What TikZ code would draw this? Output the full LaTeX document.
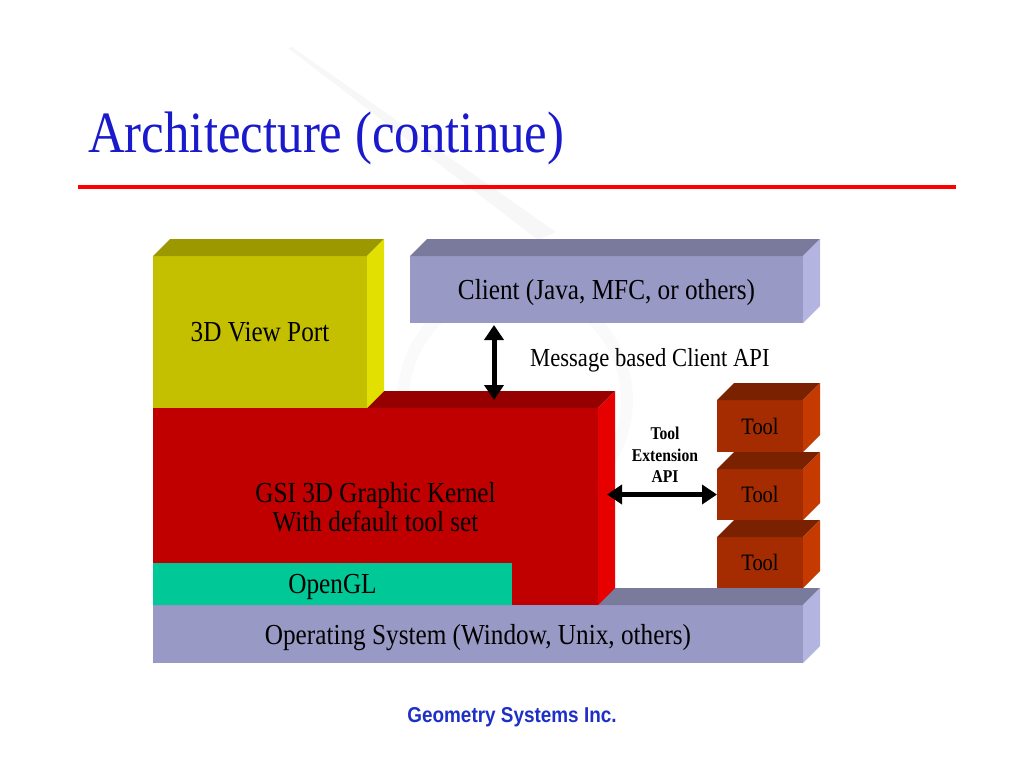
\documentclass[tikz,border=0pt]{standalone}
\usepackage{fontspec}
\setmainfont{Liberation Serif}[FakeStretch=0.87]
\newfontfamily\footfont{Liberation Sans}[FakeStretch=0.88]
\usetikzlibrary{arrows.meta,calc}
\definecolor{vpFront}{RGB}{196,192,0}
\definecolor{vpTop}{RGB}{156,153,0}
\definecolor{vpSide}{RGB}{226,224,0}
\definecolor{clFront}{RGB}{153,153,198}
\definecolor{clTop}{RGB}{122,122,156}
\definecolor{clSide}{RGB}{180,180,224}
\definecolor{krFront}{RGB}{192,0,0}
\definecolor{krTop}{RGB}{150,0,0}
\definecolor{krSide}{RGB}{230,0,0}
\definecolor{glFront}{RGB}{0,200,150}
\definecolor{tlFront}{RGB}{165,44,0}
\definecolor{tlTop}{RGB}{122,34,0}
\definecolor{tlSide}{RGB}{196,58,0}
\definecolor{titleBlue}{RGB}{26,26,204}
\definecolor{footBlue}{RGB}{30,47,200}
\newcommand\cubefaces[3]{%
  \fill[#2] (#1.north west) -- ++(17,-17) -- ($(#1.north east)+(17,-17)$) -- (#1.north east) -- cycle;
  \fill[#3] (#1.north east) -- ++(17,-17) -- ($(#1.south east)+(17,-17)$) -- (#1.south east) -- cycle;}
\begin{document}
\begin{tikzpicture}[x=1pt,y=-1pt,
  face/.style={draw=none, inner sep=0pt, outer sep=0pt, anchor=north west, text=black,
    font=\fontsize{29}{29}\selectfont, align=center, text depth=0pt},
  toolbox/.style={face, fill=tlFront, minimum width=86pt, font=\fontsize{23.5}{24}\selectfont},
  dbl/.style={line width=5pt, {Triangle[width=19pt,length=15pt]}-{Triangle[width=19pt,length=15pt]}}]
\useasboundingbox (0,0) rectangle (1024,768);
% faint background swoosh
\fill[gray!6] (288,48) -- (292,47) -- (556,232) -- (538,240) -- cycle;
\draw[gray!4, line width=12pt] (515,400) circle (112);
% title
\node[anchor=base west, inner sep=0pt, text=titleBlue, font=\fontsize{58.5}{60}\selectfont] (title) at (88,152) {Architecture (continue)};
\draw[line width=4pt, red] (78,187) -- (956,187);
% operating system
\node[face, fill=clFront, minimum width=650pt, minimum height=58pt] (os) at (153,605) {Operating System (Window, Unix, others)};
\cubefaces{os}{clTop}{clSide}
% kernel
\node[face, fill=krFront, minimum width=445pt, minimum height=197pt] (kernel) at (153,408) {GSI 3D Graphic Kernel\\With default tool set};
\cubefaces{kernel}{krTop}{krSide}
% OpenGL
\node[face, fill=glFront, minimum width=359pt, minimum height=42pt] (gl) at (153,563) {OpenGL};
% view port
\node[face, fill=vpFront, minimum width=214pt, minimum height=152pt] (vp) at (153,256) {3D View Port};
\cubefaces{vp}{vpTop}{vpSide}
% tools
\node[toolbox, minimum height=52pt] (tool1) at (717,400) {Tool};
\cubefaces{tool1}{tlTop}{tlSide}
\node[toolbox, minimum height=51pt] (tool2) at (717,469) {Tool};
\cubefaces{tool2}{tlTop}{tlSide}
\node[toolbox, minimum height=51pt] (tool3) at (717,537) {Tool};
\cubefaces{tool3}{tlTop}{tlSide}
% client
\node[face, fill=clFront, minimum width=393pt, minimum height=67pt] (client) at (410,256) {Client (Java, MFC, or others)};
\cubefaces{client}{clTop}{clSide}
% arrows
\draw[dbl] ($(client.south west)+(84,2)$) -- ($(kernel.north west)+(341,-8)$);
\node[anchor=base west, inner sep=0pt, font=\fontsize{26}{27}\selectfont] (msg) at (530,366) {Message based Client API};
\draw[dbl] ($(kernel.east |- tool2.west)+(9,0)$) -- (tool2.west);
\node[inner sep=0pt, align=center, font=\bfseries\fontsize{18}{21.5}\selectfont] (tea) at (665,455) {Tool\\Extension\\API};
% footer
\node[inner sep=0pt, text=footBlue, font=\footfont\bfseries\fontsize{21.5}{23}\selectfont] (foot) at (512,717) {Geometry Systems Inc.};
\end{tikzpicture}
\end{document}
